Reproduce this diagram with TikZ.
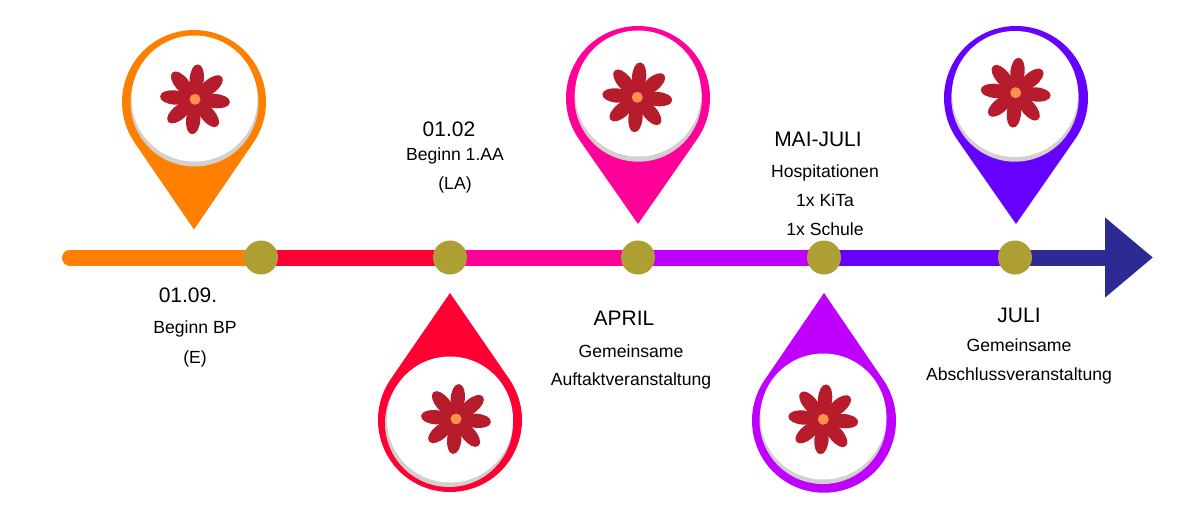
\documentclass[tikz,border=0pt]{standalone}
\usepackage{fontspec}
\setmainfont{Liberation Sans}
\usetikzlibrary{arrows.meta,backgrounds}
\definecolor{pinorange}{HTML}{FF8000}
\definecolor{pinred}{HTML}{FF0033}
\definecolor{pinpink}{HTML}{FF0099}
\definecolor{pinpurple}{HTML}{BF00FF}
\definecolor{pinviolet}{HTML}{6600FF}
\definecolor{arrownavy}{HTML}{2E2A94}
\definecolor{dotolive}{HTML}{AD9F33}
\definecolor{petalred}{HTML}{B71C2C}
\definecolor{flowermid}{HTML}{FF914D}
\definecolor{pinshadow}{HTML}{D4D0D0}
\tikzset{
  dot/.style={circle, fill=dotolive, minimum size=34pt, inner sep=0pt},
  axis/.style={line width=16pt},
  heading/.style={inner sep=0pt, font=\fontsize{21}{25}\selectfont},
  textline/.style={inner sep=0pt, font=\fontsize{17.6}{21}\selectfont, node distance=29pt},
}
% flower at x, y
\newcommand{\flowermark}[2]{
  \begin{scope}[shift={(#1,#2)}]
    \foreach \petalangle in {-5,40,...,310}
      \fill[petalred, rotate=\petalangle] (3,0) .. controls (6,9.5) and (35,9.5) .. (35,0) .. controls (35,-9.5) and (6,-9.5) .. (3,0);
    \fill[flowermid] (0,0) circle [radius=5.5];
  \end{scope}
}
% pin body at x, y with rotation, colour and distance to the tip
\newcommand{\pinmark}[5]{
  \pgfmathsetmacro{\pinangle}{90-acos(72/#5)}
  \fill[#4, shift={(#1,#2)}, rotate=#3] (0,-#5) -- (-\pinangle:72) arc [start angle=-\pinangle, end angle=180+\pinangle, radius=72] -- cycle;
}
\begin{document}
\begin{tikzpicture}[x=1pt, y=1pt]
\useasboundingbox (0,0) rectangle (1189,-504);
% pins above
\pinmark{194}{-102}{0}{pinorange}{127.5}
\fill[pinshadow] (194.5,-102.5) circle [radius=64];
\fill[white] (194.5,-98.5) circle [radius=63];
\flowermark{195}{-99.3}
\pinmark{638}{-98}{0}{pinpink}{126}
\fill[pinshadow] (638.2,-98) circle [radius=63.7];
\fill[white] (638.2,-93.5) circle [radius=63];
\flowermark{637.3}{-97.3}
\pinmark{1016}{-98}{0}{pinviolet}{126}
\fill[pinshadow] (1015,-98) circle [radius=63.7];
\fill[white] (1015,-94) circle [radius=63];
\flowermark{1015.7}{-92.7}
% pins below
\pinmark{450}{-420}{180}{pinred}{127}
\fill[pinshadow] (449,-423) circle [radius=64];
\fill[white] (450,-419.5) circle [radius=63];
\flowermark{456}{-419}
\pinmark{824}{-420.7}{180}{pinpurple}{127.7}
\fill[pinshadow] (823,-420.5) circle [radius=63.5];
\fill[white] (823.3,-416.5) circle [radius=63];
\flowermark{823.3}{-419.3}
% time line
\coordinate (linestart) at (70,-257.5);
\coordinate (lineend) at (1153,-257.5);
\node (dotsep) [dot] at (261,-257.5) {};
\node (dotfeb) [dot, right of=dotsep, node distance=189pt] {};
\node (dotapr) [dot, right of=dotfeb, node distance=188pt] {};
\node (dotmai) [dot, right of=dotapr, node distance=186pt] {};
\node (dotjul) [dot, right of=dotmai, node distance=191pt] {};
\begin{scope}[on background layer]
\draw[axis, pinorange, line cap=round] (linestart) -- (dotsep.center);
\draw[axis, pinred] (dotsep.center) -- (dotfeb.center);
\draw[axis, pinpink] (dotfeb.center) -- (dotapr.center);
\draw[axis, pinpurple] (dotapr.center) -- (dotmai.center);
\draw[axis, pinviolet] (dotmai.center) -- (dotjul.center);
\draw[axis, arrownavy, -{Triangle[length=48pt, width=77pt]}] (dotjul.center) -- (lineend);
\end{scope}
% labels
\node (datesep) [heading] at (188,-295) {01.09.};
\node (beginbp) [textline] at (195,-329) {Beginn BP};
\node (beginbpb) [textline, below of=beginbp, node distance=29.5pt] {(E)};
\node (datefeb) [heading] at (449,-129) {01.02};
\node (beginaa) [textline] at (455,-156) {Beginn 1.AA};
\node (beginaab) [textline, below of=beginaa] {(LA)};
\node (dateapr) [heading] at (624,-318) {APRIL};
\node (gemapr) [textline] at (631,-351) {Gemeinsame};
\node (auftakt) [textline, below of=gemapr, node distance=30pt] {Auftaktveranstaltung};
\node (datemai) [heading] at (818,-139) {MAI-JULI};
\node (hospi) [textline] at (825,-173) {Hospitationen};
\node (kita) [textline, below of=hospi, node distance=27.5pt] {1x KiTa};
\node (schule) [textline, below of=kita] {1x Schule};
\node (datejul) [heading] at (1019,-315) {JULI};
\node (gemjul) [textline] at (1019,-345.5) {Gemeinsame};
\node (abschluss) [textline, below of=gemjul, node distance=30pt] {Abschlussveranstaltung};
\end{tikzpicture}
\end{document}
